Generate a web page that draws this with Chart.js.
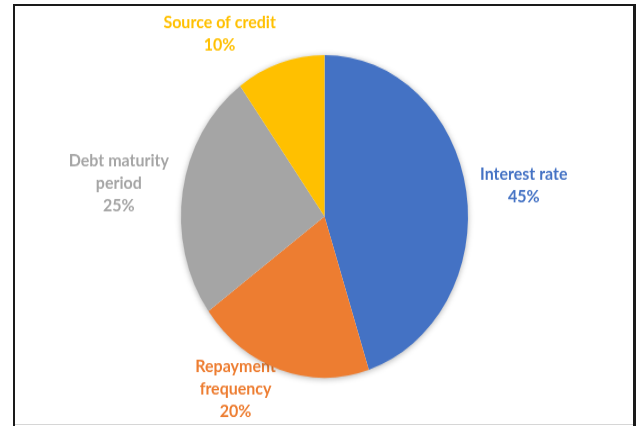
<!DOCTYPE html>
<html lang="en">
<head>
<meta charset="UTF-8">
<title>Credit factors</title>
<script src="https://cdn.jsdelivr.net/npm/chart.js"></script>
<style>
    body {
        margin: 0;
        background: #ffffff;
        width: 641px;
        height: 426px;
        overflow: hidden;
        position: relative;
    }
    /* chart is drawn at 641x379 and stretched to the full page height */
    #wrap {
        position: absolute;
        left: 0;
        top: 0;
        width: 641px;
        height: 379px;
        transform: scaleY(1.124);
        transform-origin: 0 0;
    }
    .frame {
        position: absolute;
        left: 13px;
        top: 4px;
        width: 623px;
        height: 440px;
        box-sizing: border-box;
        border: 2px solid #1a1a1a;
        border-right-width: 3px;
        pointer-events: none;
    }
    .frame-bottom {
        position: absolute;
        left: 15px;
        top: 424px;
        width: 618px;
        height: 1px;
        background: #d6d6d6;
    }
</style>
</head>
<body>
<div id="wrap"><canvas id="pie"></canvas></div>
<div class="frame"></div>
<div class="frame-bottom"></div>
<script>
const categories = ['Interest rate', 'Repayment frequency', 'Debt maturity period', 'Source of credit'];
const shares = [45, 20, 25, 10];
const sliceColors = ['#4472C4', '#ED7D31', '#A5A5A5', '#FFC000'];

const LABEL_FONT = 'bold 16px Lato';
const LINE_H = 20;
const GAP = 14;
const WRAP_AT = 120;
const EDGE_TOP = 10;
const EDGE_BOTTOM = 3;

// split a label into lines no wider than maxW
function wrapText(ctx, text, maxW) {
    const words = text.split(' ');
    const lines = [];
    let cur = '';
    words.forEach(w => {
        const test = cur ? cur + ' ' + w : w;
        if (cur && ctx.measureText(test).width > maxW) {
            lines.push(cur);
            cur = w;
        } else {
            cur = test;
        }
    });
    if (cur) lines.push(cur);
    return lines;
}

// category + percent labels outside each slice, plus a soft shadow under the pie
const outsideLabels = {
    id: 'outsideLabels',
    beforeDatasetsDraw(chart) {
        const ctx = chart.ctx;
        const arcs = chart.getDatasetMeta(0).data;
        ctx.save();
        ctx.font = LABEL_FONT;
        ctx.textAlign = 'center';
        ctx.textBaseline = 'middle';
        arcs.forEach((arc, i) => {
            const p = arc.getProps(['x', 'y', 'startAngle', 'endAngle', 'outerRadius'], true);
            const mid = (p.startAngle + p.endAngle) / 2;
            const c = Math.cos(mid), s = Math.sin(mid);
            const lines = wrapText(ctx, categories[i], WRAP_AT).concat(shares[i] + '%');
            const w = Math.max(...lines.map(l => ctx.measureText(l).width));
            const h = lines.length * LINE_H;
            const px = p.x + (p.outerRadius + GAP) * c;
            const py = p.y + (p.outerRadius + GAP) * s;
            const cx = px + Math.sign(c) * w / 2;
            let cy = py + s * h / 2;
            // keep the label block inside the chart area
            cy = Math.min(Math.max(cy, h / 2 + EDGE_TOP), chart.height - h / 2 - EDGE_BOTTOM);
            ctx.fillStyle = sliceColors[i];
            lines.forEach((l, k) => ctx.fillText(l, cx, cy - h / 2 + LINE_H * (k + 0.5)));
        });

        const first = arcs[0];
        ctx.shadowColor = 'rgba(0, 0, 0, 0.35)';
        ctx.shadowBlur = 6;
        ctx.shadowOffsetY = 1;
        ctx.fillStyle = '#ffffff';
        ctx.beginPath();
        ctx.arc(first.x, first.y, first.outerRadius - 0.5, 0, Math.PI * 2);
        ctx.fill();
        ctx.restore();
    }
};

new Chart(document.getElementById('pie'), {
    type: 'pie',
    data: {
        labels: categories,
        datasets: [{
            data: shares,
            backgroundColor: sliceColors,
            borderWidth: 0,
            hoverOffset: 0
        }]
    },
    options: {
        responsive: true,
        maintainAspectRatio: false,
        animation: false,
        events: [],
        layout: {
            padding: { top: 49, bottom: 43, left: 181, right: 173 }
        },
        plugins: {
            legend: { display: false },
            tooltip: { enabled: false }
        }
    },
    plugins: [outsideLabels]
});
</script>
</body>
</html>
